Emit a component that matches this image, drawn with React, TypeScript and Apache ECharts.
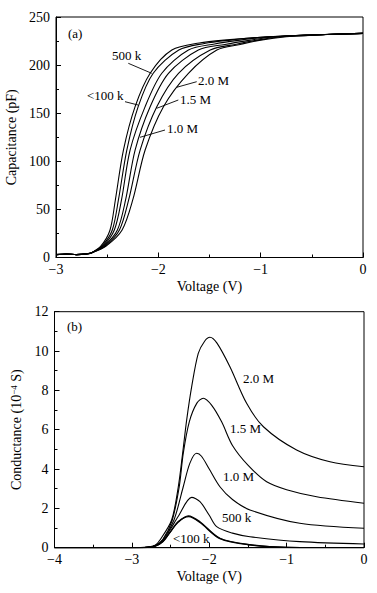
import React, { useEffect, useRef } from "react";
import * as echarts from "echarts";

// ---------- Data ----------
// (a) Capacitance (pF) vs Voltage (V): [V, C] pairs
const capLow: number[][] = [[-3, 3], [-2.9, 3.6], [-2.8, 3], [-2.7, 3.8], [-2.65, 5]];
const capA1: number[][] = [[-2.56, 12], [-2.472, 28.6], [-2.42, 59.8], [-2.341, 111.7], [-2.227, 156.8], [-2.08, 191.5], [-1.868, 215.7], [-1.6, 223], [-1.3, 226.5], [-1.0, 229], [-0.6, 231], [-0.3, 232], [0, 233]];
const capA2: number[][] = [[-2.55, 12], [-2.45, 28.6], [-2.39, 59.8], [-2.308, 111.7], [-2.197, 156.8], [-2.05, 191.5], [-1.8, 215.7], [-1.55, 222.5], [-1.3, 226], [-1.0, 229], [-0.6, 231], [-0.3, 232], [0, 233]];
const cap500k: number[][] = [[-2.54, 12], [-2.43, 28.6], [-2.36, 59.8], [-2.276, 111.7], [-2.129, 156.8], [-1.966, 191.5], [-1.706, 215.7], [-1.45, 222], [-1.2, 226], [-1.0, 228.5], [-0.6, 231], [-0.3, 232], [0, 233]];
const cap1M: number[][] = [[-2.53, 12], [-2.40, 28.6], [-2.32, 59.8], [-2.227, 111.7], [-2.08, 156.8], [-1.901, 191.5], [-1.609, 215.7], [-1.35, 221.5], [-1.1, 226], [-0.9, 229], [-0.6, 231], [-0.3, 232], [0, 233]];
const cap1_5M: number[][] = [[-2.52, 12], [-2.38, 28.6], [-2.29, 59.8], [-2.178, 111.7], [-2.015, 156.8], [-1.803, 191.5], [-1.493, 215.7], [-1.25, 221.5], [-1.0, 226.5], [-0.8, 229.5], [-0.5, 231], [-0.3, 232], [0, 233]];
const cap2M: number[][] = [[-2.51, 12], [-2.354, 28.6], [-2.25, 59.8], [-2.129, 111.7], [-1.95, 156.8], [-1.706, 191.5], [-1.428, 215.7], [-1.2, 221.5], [-1.0, 226], [-0.75, 229.5], [-0.5, 231], [-0.3, 232], [0, 233]];

// (b) Conductance (10^-4 S) vs Voltage (V): [V, G] pairs
const gLt100a: number[][] = [[-4, 0], [-3, 0], [-2.8, 0.02], [-2.7, 0.08], [-2.6, 0.3], [-2.508, 0.78], [-2.4, 1.3], [-2.271, 1.62], [-2.12, 1.32], [-1.862, 0.48], [-1.474, 0.15], [-1.0, 0.02], [0, 0]];
const gLt100b: number[][] = [[-4, 0], [-3, 0], [-2.8, 0.02], [-2.7, 0.08], [-2.6, 0.32], [-2.5, 0.82], [-2.4, 1.33], [-2.265, 1.58], [-2.12, 1.28], [-1.862, 0.46], [-1.474, 0.14], [-1.0, 0.02], [0, 0]];
const g500k: number[][] = [[-4, 0], [-3, 0], [-2.8, 0.02], [-2.7, 0.09], [-2.6, 0.35], [-2.5, 0.95], [-2.4, 1.6], [-2.227, 2.56], [-2.12, 2.34], [-2.0, 1.65], [-1.904, 1.07], [-1.7, 0.74], [-1.474, 0.56], [-0.83, 0.31], [0, 0.19]];
const g1M: number[][] = [[-4, 0], [-3, 0], [-2.8, 0.02], [-2.7, 0.1], [-2.6, 0.4], [-2.456, 1.41], [-2.336, 3.1], [-2.25, 4.3], [-2.163, 4.8], [-2.1, 4.65], [-2.0, 4.0], [-1.862, 3.1], [-1.7, 2.45], [-1.474, 1.92], [-0.83, 1.24], [0, 0.99]];
const g1_5M: number[][] = [[-4, 0], [-3, 0], [-2.8, 0.02], [-2.7, 0.1], [-2.6, 0.42], [-2.478, 1.41], [-2.388, 3.1], [-2.336, 4.8], [-2.258, 6.4], [-2.16, 7.35], [-2.077, 7.6], [-1.97, 7.25], [-1.84, 6.4], [-1.7, 5.2], [-1.5, 4.2], [-1.258, 3.35], [-1.0, 2.95], [-0.612, 2.59], [0, 2.26]];
const g2M: number[][] = [[-4, 0], [-3, 0], [-2.8, 0.03], [-2.7, 0.12], [-2.637, 0.39], [-2.486, 1.41], [-2.4, 3.1], [-2.344, 4.8], [-2.292, 6.49], [-2.227, 8.19], [-2.142, 9.88], [-2.06, 10.5], [-1.991, 10.7], [-1.9, 10.4], [-1.733, 9.2], [-1.517, 7.34], [-1.3, 6.15], [-0.871, 4.97], [-0.44, 4.37], [0, 4.12]];

const capTicksX = [-3, -2, -1, 0];
const capTicksY = [0, 50, 100, 150, 200, 250];
const gTicksX = [-4, -3, -2, -1, 0];
const gTicksY = [0, 2, 4, 6, 8, 10, 12];

const FONT = "'Liberation Serif', 'DejaVu Serif', serif";
const minus = (v: number) => String(v).replace("-", "\u2212");

function lineSeries(data: number[][], xi: number, width = 1.1) {
  return {
    type: "line",
    xAxisIndex: xi,
    yAxisIndex: xi,
    data,
    showSymbol: false,
    smooth: 0.3,
    lineStyle: { color: "#000", width },
    silent: true,
  };
}

export default function App() {
  const ref = useRef<HTMLDivElement>(null);
  useEffect(() => {
    if (!ref.current) return;
    const chart = echarts.init(ref.current, undefined, { renderer: "svg" });
    const axisCommon = {
      axisLine: { lineStyle: { color: "#000", width: 1 }, onZero: false },
      axisTick: { inside: true, length: 5, lineStyle: { color: "#000" } },
      minorTick: { show: true, splitNumber: 2, length: 3, lineStyle: { color: "#000" } },
      splitLine: { show: false },
      axisLabel: { color: "#000", fontFamily: FONT, fontSize: 14, formatter: (v: number) => minus(v) },
      nameTextStyle: { color: "#000", fontFamily: FONT, fontSize: 14 },
      nameLocation: "middle",
    };
    const capSeries = [capA1, capA2, cap500k, cap1M, cap1_5M, cap2M].map((s) => lineSeries([...capLow, ...s], 0, 1.1));
    const gSeries = [
      lineSeries(gLt100a, 1, 1.3),
      lineSeries(gLt100b, 1, 1.3),
      lineSeries(g500k, 1),
      lineSeries(g1M, 1),
      lineSeries(g1_5M, 1),
      lineSeries(g2M, 1),
    ];
    const txt = (x: number, y: number, text: string, align = "left") => ({
      type: "text",
      x,
      y,
      style: { text, fill: "#000", font: `13px ${FONT}`, textAlign: align, textVerticalAlign: "middle" },
    });
    const ln = (x1: number, y1: number, x2: number, y2: number) => ({
      type: "line",
      shape: { x1, y1, x2, y2 },
      style: { stroke: "#000", lineWidth: 0.9 },
    });
    chart.setOption({
      animation: false,
      backgroundColor: "#fff",
      grid: [
        { left: 56, top: 17, right: 14, height: 240.5, show: true, borderColor: "#000", borderWidth: 1, containLabel: false, outerBoundsMode: "none" },
        { left: 54.5, top: 311.7, right: 13, height: 236, show: true, borderColor: "#000", borderWidth: 1, containLabel: false, outerBoundsMode: "none" },
      ],
      xAxis: [
        {
          ...axisCommon,
          type: "value",
          gridIndex: 0,
          min: capTicksX[0],
          max: capTicksX[capTicksX.length - 1],
          interval: 1,
          name: "Voltage (V)",
          nameGap: 22,
          axisLabel: { ...axisCommon.axisLabel, margin: 5 },
        },
        {
          ...axisCommon,
          type: "value",
          gridIndex: 1,
          min: gTicksX[0],
          max: gTicksX[gTicksX.length - 1],
          interval: 1,
          name: "Voltage (V)",
          nameGap: 22,
          axisLabel: { ...axisCommon.axisLabel, margin: 5 },
        },
      ],
      yAxis: [
        {
          ...axisCommon,
          type: "value",
          gridIndex: 0,
          min: capTicksY[0],
          max: capTicksY[capTicksY.length - 1],
          interval: 50,
          name: "Capacitance (pF)",
          nameGap: 37,
          axisLabel: { ...axisCommon.axisLabel, margin: 6 },
        },
        {
          ...axisCommon,
          type: "value",
          gridIndex: 1,
          min: gTicksY[0],
          max: gTicksY[gTicksY.length - 1],
          interval: 2,
          name: "Conductance (10{sup|\u22124} S)",
          nameGap: 20,
          nameTextStyle: {
            ...axisCommon.nameTextStyle,
            rich: { sup: { fontFamily: FONT, fontSize: 9, color: "#000", verticalAlign: "top", padding: [0, 0, 6, 0] } },
          },
          axisLabel: { ...axisCommon.axisLabel, margin: 6 },
        },
      ],
      series: [...capSeries, ...gSeries],
      graphic: [
        txt(68, 33, "(a)"),
        txt(112, 55, "500 k"),
        ln(128.3, 63.3, 151.7, 73.3),
        txt(87, 95, "<100 k"),
        ln(125, 101.7, 138, 105),
        txt(198, 80, "2.0 M"),
        ln(196.7, 81.7, 176.7, 87.3),
        txt(180, 99.3, "1.5 M"),
        ln(178.3, 100, 156.7, 108.3),
        txt(167, 128, "1.0 M"),
        ln(165, 130, 140, 137.3),
        txt(67, 326, "(b)"),
        txt(243, 378, "2.0 M"),
        txt(230, 428, "1.5 M"),
        txt(223, 476, "1.0 M"),
        txt(222, 517, "500 k"),
        txt(173, 538, "<100 k"),
      ],
    });
    return () => chart.dispose();
  }, []);
  return <div ref={ref} style={{ width: 377, height: 593, position: "absolute", left: 0, top: 0 }} />;
}
